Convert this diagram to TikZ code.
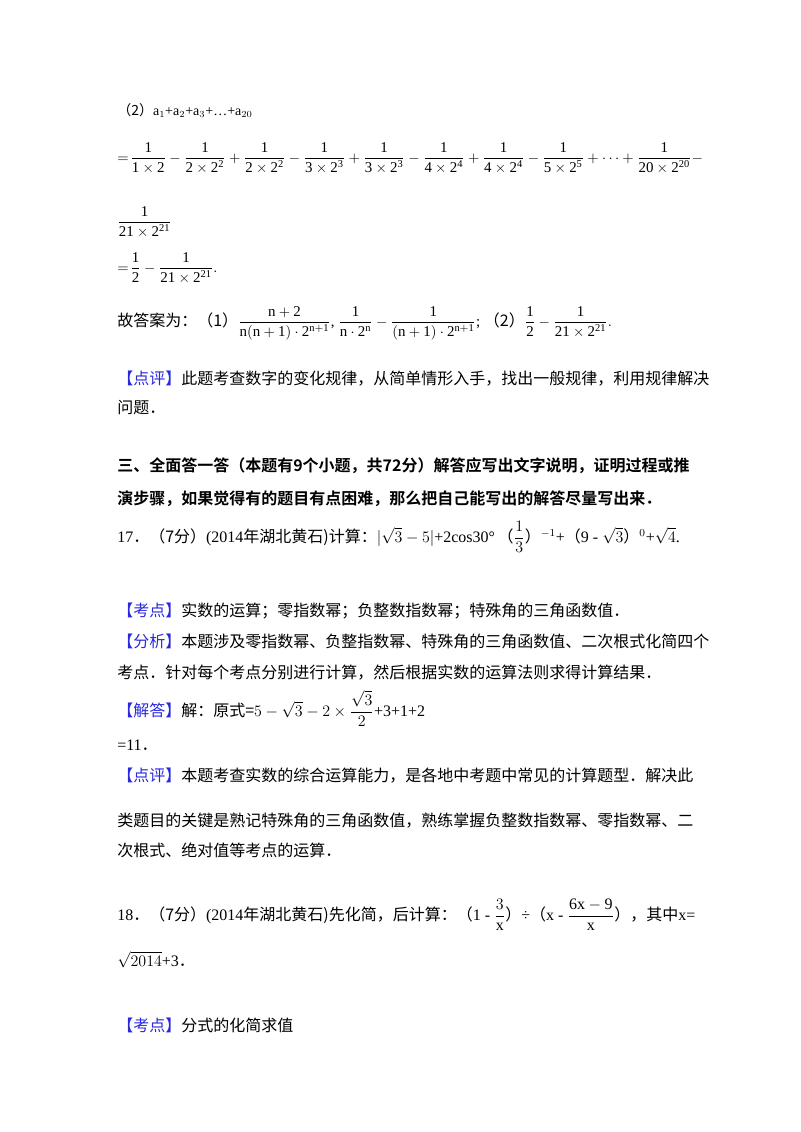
\documentclass[tikz,border=0pt]{standalone}
\usepackage{fontspec}
\usepackage{amsmath}
\setmainfont{Liberation Serif}
\newfontfamily\cjk{Noto Sans CJK SC}
\newfontfamily\cjkb{Noto Sans CJK SC Bold}
\definecolor{kd}{RGB}{40,40,220}
\tikzset{t/.style={anchor=base west,inner sep=0pt,font=\fontsize{12}{14}\selectfont}}
\newcommand{\kb}[1]{{\cjk\color{kd}【#1】}}
\newcommand{\fr}[2]{\dfrac{\mathrm{#1}}{\mathrm{#2}}}
\newcommand{\dt}{{\cjk ．}}
\begin{document}
\begin{tikzpicture}[x=0.75pt,y=-0.75pt]
\useasboundingbox (0,0) rectangle (800,1132);
\node[t] (l1) at (117,115) {\fontsize{10.5}{12}\selectfont{\cjk（2）}a$_1$+a$_2$+a$_3$+…+a$_{20}$};
\node[t] (l2) at (117,162) {\fontsize{11.2}{12}\selectfont $=\!\fr{1}{1\times2}-\fr{1}{2\times 2^2}+\fr{1}{2\times 2^2}-\fr{1}{3\times 2^3}+\fr{1}{3\times 2^3}-\fr{1}{4\times 2^4}+\fr{1}{4\times 2^4}-\fr{1}{5\times 2^5}+\dots+\fr{1}{20\times 2^{20}}-$};
\node[t] (l3) at (117,226) {\fontsize{11.2}{12}\selectfont $\fr{1}{21\times 2^{21}}$};
\node[t] (l4) at (117,272) {\fontsize{11.2}{12}\selectfont $=\!\fr{1}{2}-\fr{1}{21\times 2^{21}}.$};
\node[t] (l5) at (117,326) {{\cjk 故答案为：（1）}\fontsize{11.2}{12}\selectfont$\fr{n+2}{n(n+1)\cdot 2^{n+1}}$, $\fr{1}{n\cdot 2^{n}}-\fr{1}{(n+1)\cdot 2^{n+1}}$;\ {\fontsize{12}{14}\cjk（2）}$\fr{1}{2}-\fr{1}{21\times 2^{21}}.$};
\node[t] (l6) at (117,384) {\kb{点评}{\cjk 此题考查数字的变化规律，从简单情形入手，找出一般规律，利用规律解决}};
\node[t] (l7) at (117,413) {\cjk 问题．};
\node[t] (l8) at (117,471) {\cjkb 三、全面答一答（本题有9个小题，共72分）解答应写出文字说明，证明过程或推};
\node[t] (l9) at (117,504) {\cjkb 演步骤，如果觉得有的题目有点困难，那么把自己能写出的解答尽量写出来．};
\node[t] (l10) at (117,542) {17\dt{\cjk（7分）}(2014{\cjk 年湖北黄石)计算：}$|\sqrt{3}-5|$+2cos30°\,{\cjk（}$\dfrac{1}{3}${\cjk）}$^{-1}$+{\cjk（}9 - $\sqrt{3}${\cjk）}$^0$+$\sqrt{4}$.};
\node[t] (l11) at (117,616) {\kb{考点}{\cjk 实数的运算；零指数幂；负整数指数幂；特殊角的三角函数值．}};
\node[t] (l12) at (117,647) {\kb{分析}{\cjk 本题涉及零指数幂、负整指数幂、特殊角的三角函数值、二次根式化简四个}};
\node[t] (l13) at (117,678) {\cjk 考点．针对每个考点分别进行计算，然后根据实数的运算法则求得计算结果．};
\node[t] (l14) at (117,716) {\kb{解答}{\cjk 解：原式=}$5-\sqrt{3}-2\times\dfrac{\sqrt{3}}{2}$+3+1+2};
\node[t] (l15) at (117,750) {=11\dt};
\node[t] (l16) at (117,781) {\kb{点评}{\cjk 本题考查实数的综合运算能力，是各地中考题中常见的计算题型．解决此}};
\node[t] (l17) at (117,826) {\cjk 类题目的关键是熟记特殊角的三角函数值，熟练掌握负整数指数幂、零指数幂、二};
\node[t] (l18) at (117,856) {\cjk 次根式、绝对值等考点的运算．};
\node[t] (l19) at (117,920) {18\dt{\cjk（7分）}(2014{\cjk 年湖北黄石)先化简，后计算：（}1 - $\dfrac{3}{\mathrm{x}}${\cjk）}÷{\cjk（}x - $\dfrac{\mathrm{6x-9}}{\mathrm{x}}${\cjk），其中}x=};
\node[t] (l20) at (117,966) {$\sqrt{2014}$+3\dt};
\node[t] (l21) at (117,1031) {\kb{考点}{\cjk 分式的化简求值}};
\end{tikzpicture}
\end{document}
